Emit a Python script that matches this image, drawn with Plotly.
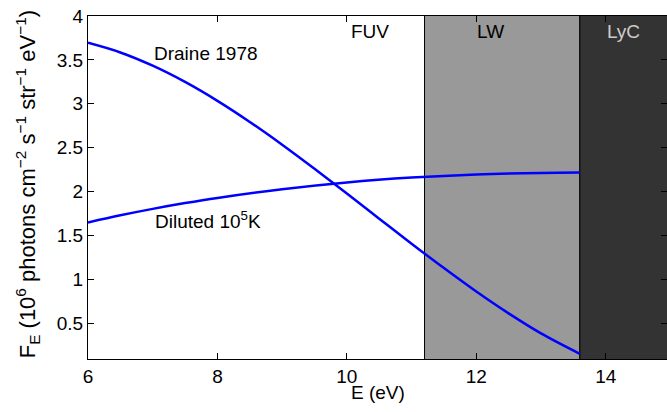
import plotly.graph_objects as go

# Energy grid (eV)
E_draine = [6.0, 6.5, 7.0, 7.5, 8.0, 8.5, 9.0, 9.5, 10.0, 10.5, 11.0, 11.5, 12.0, 12.5, 13.0, 13.6]
F_draine = [3.695, 3.585, 3.434, 3.249, 3.034, 2.794, 2.535, 2.261, 1.979, 1.693, 1.408, 1.130, 0.863, 0.614, 0.386, 0.154]

E_dil = [6.0, 6.5, 7.0, 7.5, 8.0, 9.0, 10.0, 11.0, 12.0, 13.0, 13.6]
F_dil = [1.650, 1.731, 1.804, 1.870, 1.929, 2.028, 2.105, 2.160, 2.196, 2.214, 2.218]

# Band edges (eV)
band_names = ["FUV", "LW", "LyC"]
band_edges = [6.0, 11.2, 13.6, 15.0]
band_fill = ["rgba(0,0,0,0)", "#999999", "#333333"]
band_label_x = [10.36, 12.22, 14.27]
band_label_color = ["#000000", "#000000", "#cccccc"]

x_ticks = [6, 8, 10, 12, 14]
y_ticks = [0.5, 1, 1.5, 2, 2.5, 3, 3.5, 4]

FONT = "Liberation Sans, Arial, Helvetica, sans-serif"
FS = 19

fig = go.Figure()

shapes = []
for i in range(1, 3):
    shapes.append(dict(type="rect", xref="x", yref="y",
                       x0=band_edges[i], x1=band_edges[i + 1], y0=0, y1=4.5,
                       fillcolor=band_fill[i], line=dict(color="black", width=1),
                       layer="below"))

fig.add_trace(go.Scatter(x=E_draine, y=F_draine, mode="lines",
                         line=dict(color="#0000ff", width=2.5, shape="spline"),
                         showlegend=False))
fig.add_trace(go.Scatter(x=E_dil, y=F_dil, mode="lines",
                         line=dict(color="#0000ff", width=2.5, shape="spline"),
                         showlegend=False))

annotations = []
for name, bx, c in zip(band_names, band_label_x, band_label_color):
    annotations.append(dict(x=bx, y=3.82, xref="x", yref="y", text=name,
                            showarrow=False, font=dict(family=FONT, size=FS, color=c)))
annotations.append(dict(x=7.83, y=3.575, xref="x", yref="y", text="Draine 1978",
                        showarrow=False, font=dict(family=FONT, size=FS, color="black")))
annotations.append(dict(x=7.86, y=1.68, xref="x", yref="y", text="Diluted 10<sup>5</sup>K",
                        showarrow=False, font=dict(family=FONT, size=FS, color="black")))
# x-axis title placed close under the tick labels
annotations.append(dict(x=0.5, y=-0.097, xref="paper", yref="paper", text="E (eV)",
                        xanchor="center", yanchor="middle", showarrow=False,
                        font=dict(family=FONT, size=FS, color="black")))
# y-axis title
annotations.append(dict(x=-0.105, y=0.51, xref="paper", yref="paper",
                        text="F<sub>E</sub> (10<sup>6</sup> photons cm<sup>−2</sup> s<sup>−1</sup> str<sup>−1</sup> eV<sup>−1</sup>)",
                        textangle=-90, xanchor="center", yanchor="middle", showarrow=False,
                        font=dict(family=FONT, size=22, color="black")))

fig.update_layout(
    width=667, height=412,
    margin=dict(l=88, r=0, t=16, b=53),
    paper_bgcolor="white", plot_bgcolor="white",
    font=dict(family=FONT, size=FS, color="black"),
    shapes=shapes, annotations=annotations,
    xaxis=dict(range=[6, 14.947], tickvals=x_ticks, ticks="inside", ticklen=6,
               tickcolor="black", showline=True, linecolor="black", linewidth=1,
               mirror="ticks", showgrid=False, zeroline=False,
               tickfont=dict(family=FONT, size=FS)),
    yaxis=dict(range=[0.095, 4], tickvals=y_ticks, ticks="inside", ticklen=6,
               tickcolor="black", showline=True, linecolor="black", linewidth=1,
               mirror="ticks", showgrid=False, zeroline=False,
               tickfont=dict(family=FONT, size=FS)),
)

fig.write_html("out.html", config={"displayModeBar": False},
               post_script="document.body.style.margin='0';document.body.style.overflow='hidden';")
